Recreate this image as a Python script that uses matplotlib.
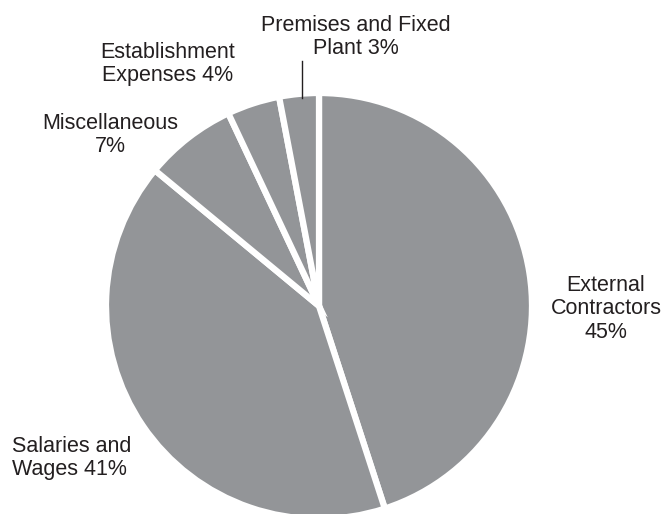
import matplotlib.pyplot as plt

categories = ["External\nContractors\n45%", "Salaries and\nWages 41%", "Miscellaneous\n7%",
              "Establishment\nExpenses 4%", "Premises and Fixed\nPlant 3%"]
values = [45, 41, 7, 4, 3]

plt.rcParams['font.family'] = ['Liberation Sans', 'DejaVu Sans']

fig = plt.figure(figsize=(6.68, 5.14), dpi=100)
ax = fig.add_axes([0, 0, 1, 1])

ax.pie(values, startangle=90, counterclock=False, center=(319, 208), radius=213,
       colors=["#939598"] * len(values),
       wedgeprops=dict(edgecolor="white", linewidth=4.5), frame=True)
ax.set_xlim(0, 668)
ax.set_ylim(0, 514)
ax.set_aspect('equal')
ax.axis('off')

tc = "#231f20"
# label positions in pixel coords (x, y from top), alignment
spots = [(606, 309, 'center'), (12, 458, 'left'), (110, 135, 'center'),
         (168, 64, 'center'), (356, 37, 'center')]
for lab, (x, y, ha) in zip(categories, spots):
    ax.text(x, 514 - y, lab, ha=ha, va='center', fontsize=15.5, color=tc, linespacing=1.18)

ax.plot([302, 302], [514 - 61, 514 - 98], color=tc, lw=1)

fig.savefig("out.png", dpi=100)
